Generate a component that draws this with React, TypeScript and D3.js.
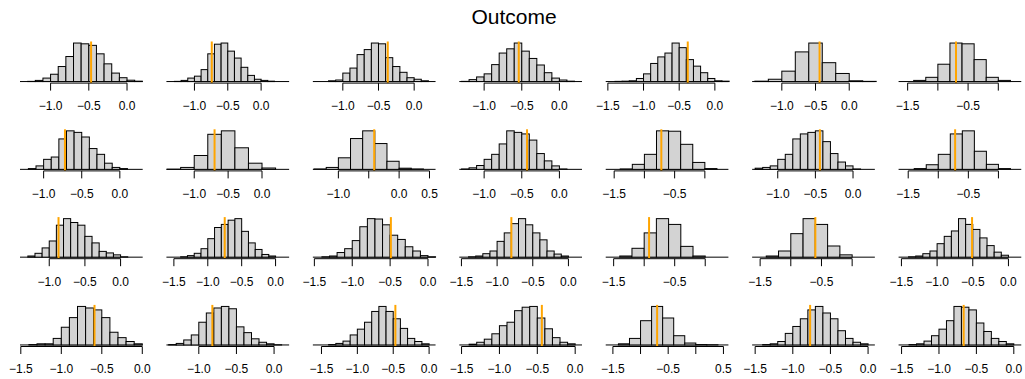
import React from 'react';
import * as d3 from 'd3';

// ---- data (row-major order, 4 rows x 7 columns) ----
const titleText = 'Outcome';

const binStart: number[] = [
  -1.3, -1.3, -1.2, -1.3, -1.4, -1.4, -1.4,
  -1.2, -1.4, -1.4, -1.3, -1.4, -1.3, -1.4,
  -1.3, -1.4, -1.4, -1.4, -1.4, -1.4, -1.4,
  -1.4, -1.4, -1.4, -1.4, -1.4, -1.4, -1.4,
];

const binWidth: number[] = [
  0.1, 0.1, 0.1, 0.1, 0.1, 0.2, 0.2,
  0.1, 0.2, 0.2, 0.1, 0.2, 0.1, 0.2,
  0.1, 0.1, 0.1, 0.1, 0.2, 0.2, 0.1,
  0.1, 0.1, 0.1, 0.1, 0.2, 0.1, 0.1,
];

// relative bar heights (tallest bar = 1)
const binHeights: number[][] = [
  [0.005, 0.03, 0.09, 0.19, 0.39, 0.65, 1.0, 0.98, 0.94, 0.72, 0.46, 0.22, 0.1, 0.035, 0.01],
  [0.005, 0.03, 0.09, 0.14, 0.31, 0.72, 0.97, 1.0, 0.79, 0.61, 0.37, 0.16, 0.06, 0.03, 0.01],
  [0.02, 0.04, 0.22, 0.35, 0.7, 0.83, 1.0, 0.98, 0.62, 0.39, 0.24, 0.1, 0.06, 0.02],
  [0.005, 0.05, 0.12, 0.2, 0.44, 0.74, 0.85, 1.0, 0.79, 0.6, 0.43, 0.23, 0.09, 0.04, 0.01],
  [0.005, 0.01, 0.02, 0.08, 0.2, 0.47, 0.64, 0.74, 1.0, 0.88, 0.57, 0.4, 0.23, 0.08, 0.02, 0.01],
  [0.01, 0.06, 0.27, 0.77, 1.0, 0.49, 0.21, 0.02, 0.005],
  [0.03, 0.11, 0.45, 1.0, 0.98, 0.57, 0.11, 0.03],

  [0.02, 0.09, 0.26, 0.32, 0.79, 1.0, 0.96, 0.84, 0.54, 0.39, 0.16, 0.05, 0.02],
  [0.005, 0.05, 0.36, 0.91, 1.0, 0.56, 0.16, 0.035],
  [0.01, 0.05, 0.3, 0.8, 1.0, 0.67, 0.21, 0.03, 0.01],
  [0.01, 0.04, 0.1, 0.26, 0.39, 0.66, 1.0, 0.96, 0.92, 0.76, 0.41, 0.22, 0.09, 0.01],
  [0.01, 0.13, 0.39, 1.0, 0.99, 0.65, 0.18, 0.02],
  [0.03, 0.05, 0.09, 0.26, 0.39, 0.79, 0.92, 0.96, 1.0, 0.72, 0.41, 0.19, 0.09, 0.01],
  [0.02, 0.12, 0.39, 0.92, 1.0, 0.47, 0.13, 0.02],

  [0.03, 0.1, 0.24, 0.42, 0.83, 1.0, 0.9, 0.83, 0.54, 0.37, 0.15, 0.11, 0.06, 0.01],
  [0.01, 0.04, 0.1, 0.22, 0.48, 0.77, 0.85, 0.96, 1.0, 0.67, 0.37, 0.2, 0.07, 0.03],
  [0.01, 0.03, 0.12, 0.22, 0.43, 0.79, 1.0, 0.99, 0.84, 0.57, 0.46, 0.27, 0.16, 0.04, 0.01],
  [0.01, 0.03, 0.09, 0.16, 0.41, 0.63, 0.87, 1.0, 0.84, 0.63, 0.45, 0.16, 0.08, 0.03],
  [0.03, 0.23, 0.63, 1.0, 0.85, 0.28, 0.03],
  [0.03, 0.16, 0.61, 1.0, 0.85, 0.29, 0.06],
  [0.01, 0.03, 0.09, 0.16, 0.35, 0.54, 0.68, 1.0, 0.85, 0.72, 0.5, 0.3, 0.13, 0.05],

  [0.01, 0.03, 0.03, 0.17, 0.46, 0.71, 1.0, 0.96, 0.91, 0.71, 0.33, 0.19, 0.09, 0.03],
  [0.01, 0.04, 0.13, 0.26, 0.59, 0.83, 0.96, 1.0, 0.94, 0.47, 0.32, 0.16, 0.07, 0.03, 0.005],
  [0.01, 0.04, 0.1, 0.26, 0.41, 0.59, 0.87, 1.0, 0.87, 0.68, 0.43, 0.17, 0.09, 0.03],
  [0.02, 0.07, 0.15, 0.29, 0.5, 0.59, 0.89, 0.98, 1.0, 0.7, 0.42, 0.19, 0.07, 0.03],
  [0.03, 0.17, 0.63, 1.0, 0.7, 0.24, 0.05, 0.01, 0.005],
  [0.01, 0.03, 0.09, 0.3, 0.48, 0.68, 0.91, 1.0, 0.83, 0.68, 0.37, 0.17, 0.07, 0.03],
  [0.01, 0.03, 0.1, 0.24, 0.41, 0.63, 1.0, 0.98, 0.91, 0.57, 0.35, 0.17, 0.09, 0.03],
];

// orange reference line positions
const refValues: number[] = [
  -0.47, -0.74, -0.37, -0.54, -0.38, -0.44, -0.70,
  -0.72, -0.70, -0.41, -0.43, -0.72, -0.44, -0.72,
  -0.87, -0.75, -0.49, -0.80, -0.92, -0.60, -0.51,
  -0.59, -0.82, -0.47, -0.44, -0.70, -0.77, -0.67,
];

// x-axis limits of each panel's plotting region
const xLimits: [number, number][] = [
  [-1.40, 0.205], [-1.42, 0.42], [-1.42, 0.30], [-1.33, 0.30], [-1.53, 0.19], [-1.44, 0.38], [-1.65, 0.38],
  [-1.31, 0.30], [-1.41, 0.40], [-1.42, 0.60], [-1.33, 0.30], [-1.64, 0.39], [-1.34, 0.29], [-1.66, 0.38],
  [-1.41, 0.31], [-1.61, 0.20], [-1.52, 0.10], [-1.53, 0.19], [-1.63, 0.38], [-1.63, 0.37], [-1.54, 0.18],
  [-1.51, 0.005], [-1.43, 0.20], [-1.62, 0.09], [-1.53, 0.09], [-1.63, 0.59], [-1.54, 0.09], [-1.54, 0.10],
];

const t3 = [-1.0, -0.5, 0.0];
const t4 = [-1.5, -1.0, -0.5, 0.0];
const l3 = ['\u22121.0', '\u22120.5', '0.0'];
const l4 = ['\u22121.5', '\u22121.0', '\u22120.5', '0.0'];
const l4skip = ['\u22121.5', '', '\u22120.5', ''];

const tickValues: number[][] = [
  t3, t3, t3, t3, t4, t3, t4,
  t3, t3, [-1.0, -0.5, 0.0, 0.5], t3, t4, t3, t4,
  t3, t4, t4, t4, t4, t4, t4,
  t4, t3, t4, t4, [-1.5, -1.0, -0.5, 0.0, 0.5], t4, t4,
];

const tickLabels: string[][] = [
  l3, l3, l3, l3, l4, l3, l4skip,
  l3, l3, ['\u22121.0', '', '0.0', '0.5'], l3, l4skip, l3, l4skip,
  l3, l4, l4, l4, l4skip, l4skip, l4,
  l4, l3, l4, l4, ['\u22121.5', '', '\u22120.5', '', '0.5'], l4, l4,
];

// ---- layout ----
const W = 1025;
const H = 379;
const NCOL = 7;
const colStep = 146.43;
const plotLeft0 = 20;
const plotW = 122.7;
const rowBase0 = 81.5;
const rowStep = 87.8;
const FONT = "'Liberation Sans', Arial, Helvetica, sans-serif";

function Panel({ i }: { i: number }) {
  const r = Math.floor(i / NCOL);
  const c = i % NCOL;
  const left = plotLeft0 + colStep * c;
  const base = rowBase0 + rowStep * r;
  const top = base - 40;
  const bottom = base + 1.6;

  const x = d3.scaleLinear().domain(xLimits[i]).range([left, left + plotW]);
  const y = d3.scaleLinear().domain([-0.04, 1.04]).range([bottom, top]);

  const heights = binHeights[i];
  const w = binWidth[i];
  const s = binStart[i];
  const ticks = tickValues[i];
  const labels = tickLabels[i];

  return (
    <g>
      <line x1={left} x2={left + plotW} y1={y(0)} y2={y(0)} stroke="#000" strokeWidth={1} />
      {heights.map((h, k) => {
        const x0 = s + k * w;
        const px0 = x(x0);
        const px1 = x(x0 + w);
        return (
          <rect
            key={k}
            x={px0}
            y={y(h)}
            width={px1 - px0}
            height={y(0) - y(h)}
            fill="#D3D3D3"
            stroke="#000"
            strokeWidth={1}
          />
        );
      })}
      <line
        x1={x(refValues[i])}
        x2={x(refValues[i])}
        y1={top}
        y2={bottom}
        stroke="#FFA500"
        strokeWidth={2}
      />
      <line
        x1={x(ticks[0])}
        x2={x(ticks[ticks.length - 1])}
        y1={bottom}
        y2={bottom}
        stroke="#000"
        strokeWidth={1}
      />
      {ticks.map((t, k) => (
        <g key={k}>
          <line x1={x(t)} x2={x(t)} y1={bottom} y2={bottom + 7.5} stroke="#000" strokeWidth={1} />
          {labels[k] ? (
            <text x={x(t)} y={base + 28.5} textAnchor="middle" fontSize={12} fontFamily={FONT} fill="#000">
              {labels[k]}
            </text>
          ) : null}
        </g>
      ))}
    </g>
  );
}

export default function App() {
  return (
    <svg
      width={W}
      height={H}
      style={{ position: 'absolute', left: 0, top: 0, background: '#fff' }}
    >
      <rect x={0} y={0} width={W} height={H} fill="#fff" />
      <text x={514} y={24} textAnchor="middle" fontSize={21} fontFamily={FONT} fill="#000">
        {titleText}
      </text>
      {binHeights.map((_, i) => (
        <Panel key={i} i={i} />
      ))}
    </svg>
  );
}
